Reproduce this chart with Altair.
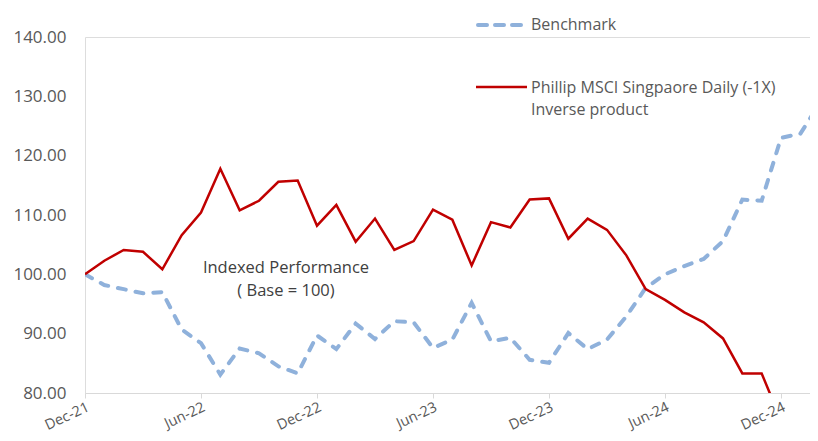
import altair as alt
import pandas as pd

months = ["Dec-21", "Jan-22", "Feb-22", "Mar-22", "Apr-22", "May-22", "Jun-22", "Jul-22",
          "Aug-22", "Sep-22", "Oct-22", "Nov-22", "Dec-22", "Jan-23", "Feb-23", "Mar-23",
          "Apr-23", "May-23", "Jun-23", "Jul-23", "Aug-23", "Sep-23", "Oct-23", "Nov-23",
          "Dec-23", "Jan-24", "Feb-24", "Mar-24", "Apr-24", "May-24", "Jun-24", "Jul-24",
          "Aug-24", "Sep-24", "Oct-24", "Nov-24", "Dec-24", "Jan-25", "Feb-25"]

benchmark = [100.0, 98.2, 97.5, 96.8, 97.0, 90.7, 88.4, 83.1, 87.5, 86.7, 84.5, 83.3,
             89.7, 87.4, 91.7, 89.1, 92.1, 91.9, 87.6, 89.0, 95.2, 88.7, 89.3, 85.6,
             85.1, 90.1, 87.4, 89.0, 92.9, 97.7, 100.0, 101.4, 102.6, 105.6, 112.6, 112.4,
             123.0, 123.7, 128.8]

inverse = [100.0, 102.3, 104.1, 103.8, 100.85, 106.6, 110.4, 117.8, 110.8, 112.4, 115.6, 115.8,
           108.2, 111.7, 105.5, 109.4, 104.1, 105.6, 110.9, 109.2, 101.5, 108.8, 107.9, 112.6,
           112.8, 106.0, 109.4, 107.5, 103.2, 97.5, 95.7, 93.6, 91.9, 89.2, 83.3, 83.3,
           75.4, 74.0, 73.0]

series_names = ["Benchmark", "Phillip MSCI Singpaore Daily (-1X) Inverse product"]
legend_lines = [["Benchmark"], ["Phillip MSCI Singpaore Daily (-1X)", "Inverse product"]]
annotation_lines = ["Indexed Performance", "( Base = 100)"]
x_tick_labels = ["Dec-21", "Jun-22", "Dec-22", "Jun-23", "Dec-23", "Jun-24", "Dec-24"]
y_tick_values = [80, 90, 100, 110, 120, 130, 140]

FONT = "Open Sans"
BLUE = "#8FB1DB"
RED = "#C00000"
GREY = "#595959"

idx = list(range(len(months)))
tick_idx = [months.index(m) for m in x_tick_labels]
label_expr = "[" + ",".join("'%s'" % m for m in months) + "][datum.value]"

bench_df = pd.DataFrame({"i": idx, "month": months, "value": benchmark, "series": series_names[0]})
inv_df = pd.DataFrame({"i": idx, "month": months, "value": inverse, "series": series_names[1]})

x_enc = alt.X(
    "i:Q",
    scale=alt.Scale(domain=[0, 37.5], nice=False, zero=False),
    axis=alt.Axis(
        values=tick_idx, labelExpr=label_expr, title=None, grid=False,
        labelAngle=335, labelAlign="right", labelBaseline="top", labelPadding=2,
        labelFont=FONT, labelFontSize=14.5, labelColor=GREY, labelFlush=False,
        domainColor="#D9D9D9", tickColor="#D9D9D9", tickSize=5, labelOverlap=False,
    ),
)
y_enc = alt.Y(
    "value:Q",
    scale=alt.Scale(domain=[80, 140], nice=False, zero=False),
    axis=alt.Axis(
        values=y_tick_values, format=".2f", title=None, grid=False, domain=False,
        ticks=False, tickSize=0, labelPadding=19,
        labelFont=FONT, labelFontSize=17, labelColor=GREY,
    ),
)

bench_line = alt.Chart(bench_df).mark_line(
    color=BLUE, strokeWidth=4, strokeDash=[8, 10], strokeCap="round", clip=True
).encode(x=x_enc, y=y_enc)

inv_line = alt.Chart(inv_df).mark_line(
    color=RED, strokeWidth=2.5, clip=True
).encode(x=x_enc, y=y_enc)

# legend (drawn by hand, above the plot area)
leg1_rule = alt.Chart(pd.DataFrame({"s": [series_names[0]]})).mark_rule(
    color=BLUE, strokeWidth=4, strokeDash=[9, 8], strokeCap="round"
).encode(x=alt.value(393), x2=alt.value(436), y=alt.value(-12))
leg2_rule = alt.Chart(pd.DataFrame({"s": [series_names[1]]})).mark_rule(
    color=RED, strokeWidth=2.5
).encode(x=alt.value(391), x2=alt.value(442), y=alt.value(50))


def text_layer(lines, x, y, align="left", color=GREY, size=16):
    return alt.Chart(pd.DataFrame({"t": lines})).mark_text(
        align=align, baseline="middle", font=FONT, fontSize=size, color=color
    ).encode(x=alt.value(x), y=alt.value(y), text="t:N")


leg_t1 = text_layer([legend_lines[0][0]], 446, -12)
leg_t2 = text_layer([legend_lines[1][0]], 446, 51)
leg_t3 = text_layer([legend_lines[1][1]], 446, 73)

ann1 = text_layer([annotation_lines[0]], 201, 231, align="center", color="#404040", size=16.5)
ann2 = text_layer([annotation_lines[1]], 201, 254, align="center", color="#404040", size=16.5)

chart = alt.layer(
    bench_line, inv_line, leg1_rule, leg2_rule, leg_t1, leg_t2, leg_t3, ann1, ann2
).properties(
    width=725, height=356,
    autosize=alt.AutoSizeParams(type="none"),
    padding={"left": 77, "top": 29, "right": 0, "bottom": 40},
).configure_view(stroke=None).configure(background="white")

chart.save("out.html", embed_options={"renderer": "svg", "actions": False})
